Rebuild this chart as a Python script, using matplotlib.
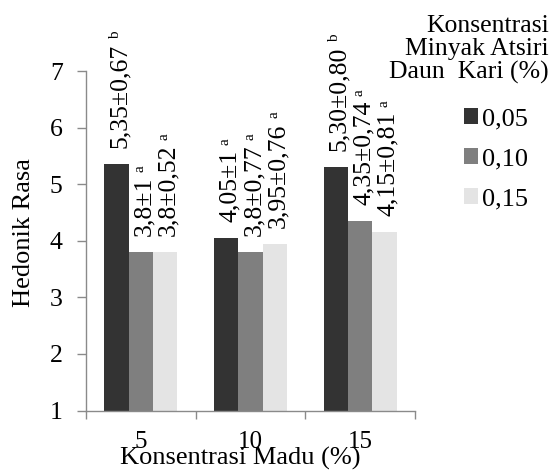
import matplotlib
matplotlib.use("Agg")
import matplotlib.pyplot as plt
from matplotlib.patches import Patch

plt.rcParams["font.family"] = ["Liberation Serif", "DejaVu Serif"]

# Honey concentration (x categories) and essential-oil concentration (series)
madu = ["5", "10", "15"]
minyak = ["0,05", "0,10", "0,15"]

# Mean hedonic taste score, standard deviation and significance letter per series
rasa_005 = ["5,35", "4,05", "5,30"]
sd_005 = ["0,67", "1", "0,80"]
notasi_005 = ["b", "a", "b"]

rasa_010 = ["3,8", "3,8", "4,35"]
sd_010 = ["1", "0,77", "0,74"]
notasi_010 = ["a", "a", "a"]

rasa_015 = ["3,8", "3,95", "4,15"]
sd_015 = ["0,52", "0,76", "0,81"]
notasi_015 = ["a", "a", "a"]

warna = ["#333333", "#7f7f7f", "#e4e4e4"]
abu = "#8a8a8a"


def angka(s):
    return float(s.replace(",", "."))


seri = [
    (rasa_005, sd_005, notasi_005),
    (rasa_010, sd_010, notasi_010),
    (rasa_015, sd_015, notasi_015),
]

W, H = 553, 471
fig = plt.figure(figsize=(W / 100, H / 100), dpi=100)
ax = fig.add_axes([86 / W, 1 - 410.5 / H, 329 / W, 339.5 / H])

lebar = 0.2225
pos = range(len(madu))
handles = []
for k, (rasa, sd, notasi) in enumerate(seri):
    off = (k - 1) * lebar
    nilai = [angka(v) for v in rasa]
    xs = [p + off for p in pos]
    ax.bar(xs, nilai, width=lebar, color=warna[k], linewidth=0, zorder=2)
    handles.append(Patch(facecolor=warna[k], edgecolor="none", label=minyak[k]))
    for x, v, m, s, n in zip(xs, nilai, rasa, sd, notasi):
        t = ax.annotate(f"{m}\u00b1{s}", xy=(x, v), xytext=(6.8, 11.5),
                        textcoords="offset points", rotation=90,
                        rotation_mode="anchor", ha="left", va="baseline",
                        fontsize=18.5, zorder=3)
        ax.annotate(n, xy=(1, 1), xycoords=t, xytext=(-8.5, 3.5),
                    textcoords="offset points", rotation=90,
                    rotation_mode="anchor", ha="left", va="baseline",
                    fontsize=11, zorder=3)

ax.set_xlim(-0.5, 2.5)
ax.set_ylim(1, 7)
ax.set_yticks(range(1, 8))
ax.set_xticks(list(pos))
ax.set_xticklabels(madu)
ax.set_xticks([-0.5, 0.5, 1.5, 2.5], minor=True)

for side in ("top", "right"):
    ax.spines[side].set_visible(False)
for side in ("left", "bottom"):
    ax.spines[side].set_color(abu)
    ax.spines[side].set_linewidth(1.0)

ax.tick_params(axis="y", direction="out", length=6.3, width=1.0, color=abu,
               pad=10.5, labelsize=18.5)
ax.tick_params(axis="x", which="major", length=0, pad=15, labelsize=18)
ax.tick_params(axis="x", which="minor", direction="out", length=5.5,
               width=1.0, color=abu)

fig.text(30 / W, 1 - 233 / H, "Hedonik Rasa", rotation=90,
         rotation_mode="anchor", ha="center", va="baseline", fontsize=19)
fig.text(240 / W, 1 - 465 / H, "Konsentrasi Madu (%)", ha="center",
         va="baseline", fontsize=19)

fig.text(549 / W, 1 - 15.5 / H, "Konsentrasi\nMinyak Atsiri\nDaun  Kari (%)",
         ha="right", va="top", multialignment="right", fontsize=18.5,
         linespacing=1.03)

fig.legend(handles=handles, loc="upper left",
           bbox_to_anchor=(464 / W, 1 - 108 / H), frameon=False,
           fontsize=19, handlelength=0.53, handleheight=0.53,
           handletextpad=0.15, labelspacing=0.68, borderpad=0,
           borderaxespad=0)

fig.savefig("out.png", dpi=100)
